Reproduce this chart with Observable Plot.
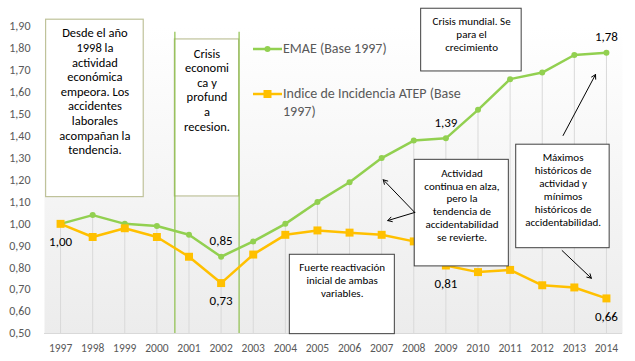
<!DOCTYPE html>
<html><head><meta charset="utf-8">
<script src="https://cdn.jsdelivr.net/npm/d3@7"></script>
<script src="https://cdn.jsdelivr.net/npm/@observablehq/plot@0.6"></script>
<style>
body{margin:0;background:#fff;}
#wrap{position:relative;width:635px;height:361px;font-family:Carlito,Calibri,Lato,sans-serif;}
#wrap > svg{position:absolute;left:0;top:0;}
.leg{position:absolute;color:#595959;font-size:14px;line-height:18px;white-space:nowrap;}
.legsym{position:absolute;overflow:visible;}
</style></head><body><div id="wrap"></div>
<script>
// ---- data ----
const years = [1997,1998,1999,2000,2001,2002,2003,2004,2005,2006,2007,2008,2009,2010,2011,2012,2013,2014];
const emae  = [1.00,1.04,1.00,0.99,0.95,0.85,0.92,1.00,1.10,1.19,1.30,1.38,1.39,1.52,1.66,1.69,1.77,1.78];
const atep  = [1.00,0.94,0.98,0.94,0.85,0.73,0.86,0.95,0.97,0.96,0.95,0.92,0.81,0.78,0.79,0.72,0.71,0.66];
const yTicks = [0.5,0.6,0.7,0.8,0.9,1.0,1.1,1.2,1.3,1.4,1.5,1.6,1.7,1.8,1.9];
const seriesNames = ["EMAE (Base 1997)", "Indice de Incidencia ATEP (Base<br>1997)"];
// value labels: year, series value, text, side
const valueLabels = [
  {year:1997, value:1.00, text:"1,00", side:"below"},
  {year:2002, value:0.85, text:"0,85", side:"above"},
  {year:2002, value:0.73, text:"0,73", side:"below"},
  {year:2009, value:1.39, text:"1,39", side:"above"},
  {year:2014, value:1.78, text:"1,78", side:"above"},
  {year:2009, value:0.81, text:"0,81", side:"below"},
  {year:2014, value:0.66, text:"0,66", side:"below"}
];
// annotation boxes, in data coordinates (year, index value)
const notes = [
  {x1:1996.55, x2:1999.59, y1:1.122, y2:1.931, tx:1998.07, ty:1.605, fs:12.5, lh:1.17, kind:"olive",
   text:"Desde el año\n1998 la\nactividad\neconómica\nempeora. Los\naccidentes\nlaborales\nacompañan la\ntendencia."},
  {x1:2000.56, x2:2002.56, y1:1.125, y2:1.841, tx:2001.56, ty:1.613, fs:12.5, lh:1.17, kind:"olive",
   text:"Crisis\neconomi\nca y\nprofund\na\nrecesion."},
  {x1:2008.23, x2:2011.36, y1:1.695, y2:1.981, tx:2009.80, ty:1.865, fs:11, lh:1.18, kind:"dark",
   text:"Crisis mundial. Se\npara el\ncrecimiento"},
  {x1:2008.03, x2:2010.96, y1:0.806, y2:1.292, tx:2009.50, ty:1.087, fs:11, lh:1.155, kind:"dark",
   text:"Actividad\ncontinua en alza,\npero la\ntendencia de\naccidentabilidad\nse revierte."},
  {x1:2004.14, x2:2007.41, y1:0.497, y2:0.859, tx:2005.77, ty:0.744, fs:11, lh:1.16, kind:"dark",
   text:"Fuerte reactivación\ninicial de ambas\nvariables."},
  {x1:2011.19, x2:2014.10, y1:0.889, y2:1.361, tx:2012.65, ty:1.158, fs:11, lh:1.19, kind:"dark",
   text:"Máximos\nhistóricos de\nactividad y\nmínimos\nhistóricos de\naccidentabilidad."}
];
const crisisLines = [2000.56, 2002.56];
const arrows = [
  {x1:2008.03, y1:1.052, x2:2007.05, y2:1.201},
  {x1:2008.03, y1:1.052, x2:2007.19, y2:1.015},
  {x1:2012.65, y1:1.403, x2:2013.66, y2:1.681},
  {x1:2012.62, y1:0.878, x2:2013.53, y2:0.752}
];

const GREEN = "#92d050", GOLD = "#ffc000";
const FONT = "Carlito, Calibri, Lato, sans-serif";
const emaeData = years.map((y,i)=>({year:y, v:emae[i]}));
const atepData = years.map((y,i)=>({year:y, v:atep[i]}));
const drop = years.map((y,i)=>({year:y, top:Math.max(emae[i], atep[i])}));
const fmt = d => d.toFixed(2).replace(".", ",");
const textMarks = notes.map(n => Plot.text([n], {x:"tx", y:"ty", text:"text", fontSize:n.fs, lineHeight:n.lh, fill:"#000", textAnchor:"middle", lineAnchor:"middle"}));

const plot = Plot.plot({
  width:635, height:361,
  marginLeft:44, marginRight:13, marginTop:26, marginBottom:28,
  style:{fontFamily:FONT, background:"transparent", overflow:"visible"},
  x:{domain:[1996.5, 2014.5]},
  y:{domain:[0.5, 1.9]},
  marks:[
    Plot.frame({fill:"url(#pg)", stroke:"none"}),
    Plot.ruleX(drop, {x:"year", y1:0.5, y2:"top", stroke:"#d9d9d9", strokeWidth:1}),
    Plot.ruleY([0.5], {stroke:"#d9d9d9", strokeWidth:1}),
    Plot.axisX({ticks:years, tickFormat:d=>String(d), tickSize:0, tickPadding:10, fontSize:11.5, fill:"#595959"}),
    Plot.axisY({ticks:yTicks, tickFormat:fmt, tickSize:0, tickPadding:14, fontSize:12, fill:"#595959"}),
    Plot.rect(notes.filter(n=>n.kind==="olive"), {x1:"x1", x2:"x2", y1:"y1", y2:"y2", fill:"#fff", stroke:"#bfc29a", strokeWidth:1.2}),
    Plot.ruleX(crisisLines, {x:d=>d, y1:0.5, y2:1.874, stroke:"#8dbf4a", strokeWidth:1.2}),
    Plot.line(emaeData, {x:"year", y:"v", stroke:GREEN, strokeWidth:2.5}),
    Plot.dot(emaeData, {x:"year", y:"v", r:3, fill:GREEN, stroke:"none"}),
    Plot.line(atepData, {x:"year", y:"v", stroke:GOLD, strokeWidth:2.5}),
    Plot.dot(atepData, {x:"year", y:"v", r:4.5, symbol:"square", fill:GOLD, stroke:"none"}),
    Plot.rect(notes.filter(n=>n.kind==="dark"), {x1:"x1", x2:"x2", y1:"y1", y2:"y2", fill:"#fff", stroke:"#404040", strokeWidth:1}),
    Plot.arrow(arrows, {x1:"x1", y1:"y1", x2:"x2", y2:"y2", stroke:"#000", strokeWidth:1, headLength:7}),
    ...textMarks,
    Plot.text(valueLabels.filter(d=>d.side==="above"), {x:"year", y:"value", text:"text", dy:-16, fontSize:13, fill:"#000"}),
    Plot.text(valueLabels.filter(d=>d.side==="below"), {x:"year", y:"value", text:"text", dy:18, fontSize:13, fill:"#000"})
  ]
});
d3.select(plot).insert("defs", ":first-child").html(
  '<linearGradient id="pg" x1="0" y1="0" x2="0" y2="1"><stop offset="0" stop-color="#ffffff"/><stop offset="1" stop-color="#ececec"/></linearGradient>');
const wrap = document.getElementById("wrap");
wrap.appendChild(plot);

// legend (HTML, placed over the chart area like the original)
const legend = [
  {name:seriesNames[0], color:GREEN, sym:"circle", top:40},
  {name:seriesNames[1], color:GOLD, sym:"square", top:85}
];
legend.forEach(l => {
  const s = document.createElementNS("http://www.w3.org/2000/svg","svg");
  s.setAttribute("class","legsym"); s.setAttribute("width",30); s.setAttribute("height",18);
  s.style.left = "253px"; s.style.top = l.top + "px";
  const sel = d3.select(s);
  sel.append("line").attr("x1",0).attr("x2",29).attr("y1",9).attr("y2",9).attr("stroke",l.color).attr("stroke-width",2.5);
  if (l.sym === "circle") sel.append("circle").attr("cx",14.5).attr("cy",9).attr("r",3).attr("fill",l.color);
  else sel.append("rect").attr("x",10.5).attr("y",5).attr("width",8).attr("height",8).attr("fill",l.color);
  wrap.appendChild(s);
  const d = document.createElement("div");
  d.className = "leg"; d.style.left = "283px"; d.style.top = l.top + "px";
  d.innerHTML = l.name;
  wrap.appendChild(d);
});
</script>
</body></html>
